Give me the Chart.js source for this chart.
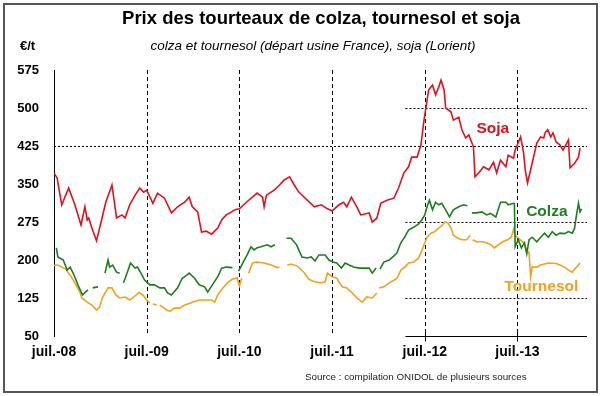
<!DOCTYPE html>
<html>
<head>
<meta charset="utf-8">
<script src="https://cdn.jsdelivr.net/npm/chart.js@4"></script>
<style>
  html, body { margin: 0; padding: 0; background: #fff; }
  #wrap { width: 600px; height: 396px; position: relative; }
</style>
</head>
<body>
<div id="wrap"><canvas id="myChart" width="600" height="396"></canvas></div>
<script>
// Mois depuis juil.-08 (0 = juil.-08), prix en €/t ; null = pas de cotation
const sojaMois = [0, 0.4, 1.0, 1.9, 2.7, 3.5, 4.0, 4.3, 4.5, 4.9, 5.5, 6.1, 6.7, 7.5, 8.1, 8.8, 9.2, 9.8, 10.5, 11.1, 11.6, 12.0, 12.8, 13.4, 14.3, 15.2, 16.0, 16.9, 17.5, 17.9, 18.6, 19.1, 19.7, 20.4, 21.2, 21.7, 22.3, 23.0, 23.4, 24.0, 24.9, 26.3, 27.0, 27.2, 27.5, 28.5, 29.2, 29.8, 30.5, 31.1, 31.7, 32.8, 33.7, 34.6, 35.4, 36.0, 36.9, 37.5, 37.9, 38.5, 39.2, 39.7, 40.8, 41.2, 41.8, 42.3, 43.1, 44.0, 44.6, 45.3, 45.9, 46.3, 47.0, 47.5, 47.9, 48.5, 49.0, 49.4, 49.8, 50.1, 50.5, 50.7, 51.4, 51.7, 52.4, 52.8, 53.3, 53.7, 54.1, 54.3, 54.5, 55.0, 55.6, 56.3, 56.9, 57.3, 57.8, 58.5, 58.8, 59.5, 59.7, 60.4, 60.8, 61.0, 61.3, 61.9, 62.5, 63.0, 63.4, 63.6, 63.9, 64.3, 64.6, 65.0, 65.5, 65.9, 66.6, 66.8, 67.4, 67.9, 68.1];
const sojaPrix = [372, 362, 309, 342, 309, 269, 305, 279, 283, 263, 238, 275, 314, 348, 283, 289, 283, 309, 328, 342, 334, 338, 312, 332, 322, 293, 305, 314, 324, 305, 295, 255, 257, 251, 263, 279, 289, 295, 299, 301, 314, 332, 324, 305, 328, 338, 348, 358, 364, 348, 334, 318, 305, 309, 301, 297, 309, 314, 305, 324, 305, 289, 293, 275, 283, 312, 318, 322, 342, 372, 384, 403, 403, 427, 476, 536, 545, 526, 541, 555, 536, 500, 492, 476, 482, 457, 441, 447, 431, 423, 364, 372, 384, 378, 393, 372, 397, 384, 407, 401, 417, 443, 411, 378, 352, 391, 431, 443, 441, 452, 457, 443, 451, 433, 427, 417, 437, 382, 391, 403, 421];

const colzaMois = [0.3, 0.5, 1.2, 1.7, 2.1, 2.6, 3.1, 3.5, 3.7, 4.1, 4.4, 4.8, 5.0, 5.7, 6.2, 6.6, 7.0, 7.2, 7.6, 8.1, 8.5, 8.8, 9.0, 9.5, 9.9, 10.5, 10.8, 11.4, 11.7, 12.4, 13.0, 13.7, 14.3, 14.7, 15.2, 16.0, 16.6, 17.2, 17.5, 18.2, 18.8, 19.5, 19.9, 20.5, 21.2, 21.7, 22.3, 23.1, 23.5, 23.9, 24.5, 25.0, 25.5, 25.9, 26.3, 26.8, 27.6, 28.1, 28.6, 29.5, 30.1, 30.7, 31.4, 32.1, 32.8, 33.3, 33.8, 34.3, 35.1, 35.6, 36.1, 36.6, 37.2, 37.7, 38.2, 38.8, 39.5, 40.1, 40.8, 41.2, 41.7, 42.0, 42.2, 42.7, 43.4, 44.0, 44.4, 44.9, 45.4, 45.9, 46.6, 47.2, 47.6, 48.0, 48.3, 48.6, 49.0, 49.4, 49.8, 50.2, 50.7, 51.2, 51.7, 52.4, 53.0, 53.5, 53.8, 54.1, 54.7, 55.4, 56.0, 56.5, 57.2, 57.5, 57.8, 58.5, 58.8, 59.5, 59.6, 59.7, 60.1, 60.5, 60.9, 61.2, 61.5, 61.9, 62.5, 63.0, 63.5, 64.0, 64.5, 65.0, 65.5, 66.1, 66.6, 67.1, 67.4, 67.6, 67.9, 68.1, 68.3];
const colzaPrix = [224, 206, 200, 180, 186, 170, 151, 137, 131, 137, 141, null, 145, 147, null, 174, 200, 186, 190, 176, 174, null, 155, 176, 194, 184, 186, 170, 161, 151, 151, 145, 145, 135, 131, 145, 164, 170, 174, 164, 151, 147, 137, 151, 167, 184, 186, 185, null, 178, 196, 210, 226, 220, 224, 226, 230, 226, 230, null, 243, 243, 230, 206, 204, 206, 198, 210, 210, 200, 196, 194, 184, 194, 190, 186, 184, 184, 184, 174, 184, null, 182, 196, 200, 208, 214, 234, 245, 259, 265, 271, 279, 289, 305, 318, 299, 314, 309, 312, 299, 285, 299, 305, 309, 307, null, 293, 293, 295, 289, 292, 285, 299, 314, 314, 309, 312, 311, 226, 240, 224, 234, 212, 240, 245, 236, 245, 253, 245, 256, 249, 253, 252, 256, 253, 263, 285, 312, 295, 301];

const tournesolMois = [0, 0.5, 1.0, 1.5, 2.1, 2.7, 3.4, 3.6, 4.3, 4.9, 5.5, 5.9, 6.3, 7.0, 7.5, 8.0, 8.5, 9.2, 9.8, 10.5, 11.0, 11.5, 12.0, 12.4, 12.6, 12.8, 13.3, 13.5, 13.7, 14.1, 14.6, 15.0, 15.6, 16.3, 16.9, 17.5, 18.2, 18.8, 19.7, 20.4, 20.8, 21.2, 21.7, 22.5, 23.1, 23.7, 24.0, 24.3, 24.6, 25.2, 25.7, 26.3, 27.2, 28.1, 28.9, 29.2, 29.7, 30.2, 30.7, 31.5, 32.4, 33.0, 33.7, 34.6, 35.1, 35.4, 36.0, 36.6, 37.3, 37.9, 38.6, 39.2, 39.9, 40.5, 41.2, 41.8, 42.0, 42.1, 42.7, 43.4, 44.0, 44.4, 44.9, 45.4, 45.9, 46.6, 47.2, 47.6, 48.0, 48.3, 48.8, 49.3, 49.8, 50.3, 50.6, 51.0, 51.4, 51.7, 52.3, 52.8, 53.4, 53.9, 54.0, 54.2, 54.7, 55.5, 56.0, 56.6, 57.0, 57.5, 58.1, 58.7, 59.2, 59.5, 59.7, 60.1, 60.8, 61.2, 61.5, 61.7, 61.9, 62.5, 63.0, 64.0, 65.0, 65.5, 66.1, 66.6, 67.1, 67.4, 67.9, 68.1];
const tournesolPrix = [189, 190, 186, 182, 170, 155, 135, 125, 117, 111, 101, 107, 127, 145, 145, 131, 125, 127, 121, 129, 136, 131, 121, 115, null, 113, 111, null, 111, 107, 101, 99, 105, 105, 111, 114, 118, 121, 121, 121, 117, 131, 142, 156, 162, 165, 149, 164, null, 174, 194, 196, 194, 190, 185, 186, null, 190, 192, 188, 175, 162, 157, 155, 157, 174, 167, 164, 147, 145, 135, 125, 117, 127, 125, 135, null, 145, 147, 155, 160, 164, 180, 186, 194, 196, 204, 218, 234, 245, 253, 256, 263, 269, 275, 273, 263, 249, 243, 240, 240, 249, null, 240, 236, 236, 234, 230, 224, 230, 236, 240, 245, 261, 249, 243, 234, 220, 214, 167, 186, 186, 190, 194, 193, 190, 186, 180, 176, 182, 190, 194];

// Axes
const moisTicks = [0, 12, 24, 36, 48, 60];
const moisLabels = ['juil.-08', 'juil.-09', 'juil.-10', 'juil.-11', 'juil.-12', 'juil.-13'];
const prixTicks = [50, 125, 200, 275, 350, 425, 500, 575];
const lignesPleines = [425];          // pointillé sur toute la largeur
const lignesPartielles = [500, 275, 125]; // pointillés à partir de 2012
const debutPartiel = 45.5;

const ROUGE = '#e2101c';
const VERT = '#1e7d1e';
const ORANGE = '#f2a01f';

const toPoints = (xs, ys) => xs.map((x, i) => ({ x: x, y: ys[i] }));

// Texte, cadre et lignes de repère
const decor = {
  id: 'decor',
  beforeDatasetsDraw(chart) {
    const { ctx, chartArea: a, scales: { x, y } } = chart;
    ctx.save();
    ctx.strokeStyle = '#000';
    ctx.lineWidth = 1;
    // verticales en tirets
    ctx.setLineDash([4, 3]);
    moisTicks.slice(1).forEach(m => {
      const px = Math.round(x.getPixelForValue(m)) + 0.5;
      ctx.beginPath(); ctx.moveTo(px, a.top); ctx.lineTo(px, a.bottom); ctx.stroke();
    });
    // horizontales en pointillés
    ctx.setLineDash([2, 2]);
    lignesPleines.forEach(v => {
      const py = Math.round(y.getPixelForValue(v)) + 0.5;
      ctx.beginPath(); ctx.moveTo(a.left, py); ctx.lineTo(a.right, py); ctx.stroke();
    });
    const x0 = x.getPixelForValue(debutPartiel);
    lignesPartielles.forEach(v => {
      const py = Math.round(y.getPixelForValue(v)) + 0.5;
      ctx.beginPath(); ctx.moveTo(x0, py); ctx.lineTo(a.right, py); ctx.stroke();
    });
    // axe des x partiel (trait plein)
    ctx.setLineDash([]);
    const by = Math.round(a.bottom) + 0.5;
    ctx.beginPath(); ctx.moveTo(x0, by); ctx.lineTo(a.right, by); ctx.stroke();
    [48, 60].forEach(m => {
      const px = Math.round(x.getPixelForValue(m)) + 0.5;
      ctx.beginPath(); ctx.moveTo(px, by - 5); ctx.lineTo(px, by + 5); ctx.stroke();
    });
    ctx.restore();
  },
  afterDraw(chart) {
    const { ctx, scales: { x, y } } = chart;
    ctx.save();
    ctx.strokeStyle = '#555';
    ctx.lineWidth = 2;
    ctx.strokeRect(4, 4, 593, 388);

    ctx.fillStyle = '#000';
    ctx.textAlign = 'center';
    ctx.textBaseline = 'middle';
    ctx.font = 'bold 18.5px "Liberation Sans", Arial, sans-serif';
    ctx.fillText('Prix des tourteaux de colza, tournesol et soja', 321, 19);
    ctx.font = 'italic 13.5px "Liberation Sans", Arial, sans-serif';
    ctx.fillText('colza et tournesol (départ usine France), soja (Lorient)', 313, 46);
    ctx.textAlign = 'left';
    ctx.font = 'bold 13px "Liberation Sans", Arial, sans-serif';
    ctx.fillText('€/t', 20, 46);

    ctx.font = 'bold 15.5px "Liberation Sans", Arial, sans-serif';
    ctx.textAlign = 'center';
    ctx.fillStyle = ROUGE;
    ctx.fillText('Soja', x.getPixelForValue(56.8), y.getPixelForValue(460));
    ctx.fillStyle = VERT;
    ctx.fillText('Colza', x.getPixelForValue(63.8), y.getPixelForValue(295));
    ctx.fillStyle = ORANGE;
    ctx.fillText('Tournesol', x.getPixelForValue(63.1), y.getPixelForValue(147));

    ctx.fillStyle = '#222';
    ctx.textAlign = 'left';
    ctx.font = '9.8px "Liberation Sans", Arial, sans-serif';
    ctx.fillText('Source : compilation ONIDOL de plusieurs sources', 305, 377);
    ctx.restore();
  }
};

const serie = (label, pts, color) => ({
  label: label,
  data: pts,
  borderColor: color,
  backgroundColor: color,
  borderWidth: 1.6,
  pointRadius: 0,
  tension: 0,
  spanGaps: false
});

const ctx = document.getElementById('myChart').getContext('2d');
const chart = new Chart(ctx, {
  type: 'line',
  data: {
    datasets: [
      serie('Soja', toPoints(sojaMois, sojaPrix), ROUGE),
      serie('Colza', toPoints(colzaMois, colzaPrix), VERT),
      serie('Tournesol', toPoints(tournesolMois, tournesolPrix), ORANGE)
    ]
  },
  options: {
    responsive: false,
    animation: false,
    layout: { padding: { left: 10, right: 13, top: 70, bottom: 36 } },
    plugins: {
      legend: { display: false },
      tooltip: { enabled: false }
    },
    scales: {
      x: {
        type: 'linear',
        min: 0,
        max: 69,
        afterBuildTicks: s => { s.ticks = moisTicks.map(v => ({ value: v })); },
        afterFit: s => { s.height = 24; },
        grid: { display: false, drawTicks: false },
        border: { display: false },
        ticks: {
          padding: 8,
          color: '#000',
          maxRotation: 0,
          autoSkip: false,
          font: { family: '"Liberation Sans", Arial, sans-serif', size: 14, weight: 'bold' },
          callback: v => moisLabels[moisTicks.indexOf(v)]
        }
      },
      y: {
        min: 50,
        max: 575,
        afterBuildTicks: s => { s.ticks = prixTicks.map(v => ({ value: v })); },
        afterFit: s => { s.width = 44; },
        grid: { display: false, drawTicks: false },
        border: { display: true, color: '#000', width: 1 },
        ticks: {
          padding: 15,
          color: '#000',
          font: { family: '"Liberation Sans", Arial, sans-serif', size: 13, weight: 'bold' }
        }
      }
    }
  },
  plugins: [decor]
});
</script>
</body>
</html>
